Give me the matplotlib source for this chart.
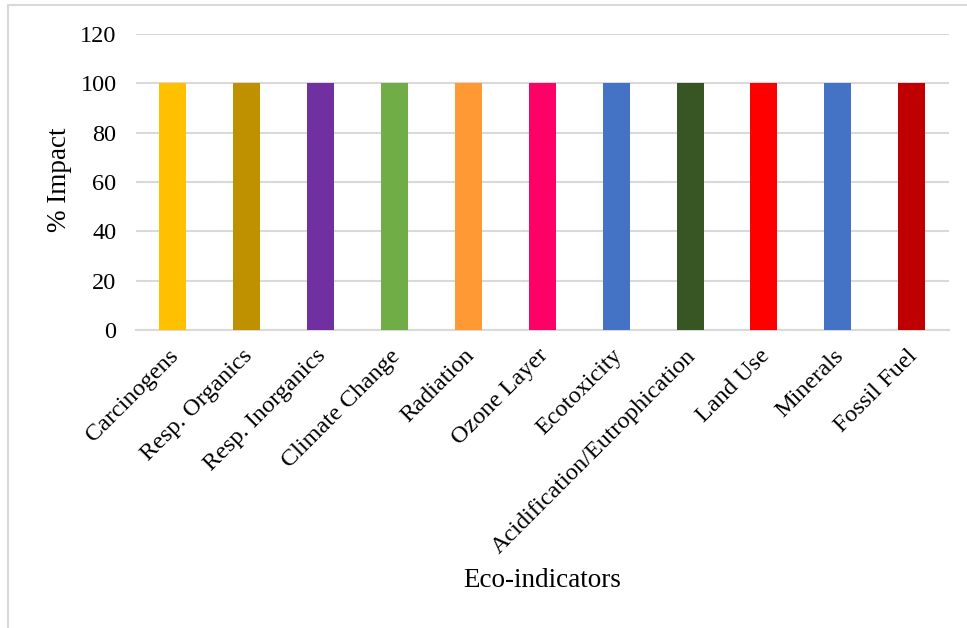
import matplotlib.pyplot as plt
from matplotlib.patches import Rectangle
from matplotlib.transforms import ScaledTranslation

categories = [
    "Carcinogens", "Resp. Organics", "Resp. Inorganics", "Climate Change",
    "Radiation", "Ozone Layer", "Ecotoxicity", "Acidification/Eutrophication",
    "Land Use", "Minerals", "Fossil Fuel",
]
impact = [100, 100, 100, 100, 100, 100, 100, 100, 100, 100, 100]
colors = [
    "#FFC000", "#BF9000", "#7030A0", "#70AD47", "#FF9933", "#FF0066",
    "#4472C4", "#375623", "#FF0000", "#4472C4", "#C00000",
]
yticks = [0, 20, 40, 60, 80, 100, 120]

plt.rcParams["font.family"] = ["Liberation Serif", "DejaVu Serif"]

fig = plt.figure(figsize=(9.67, 6.28), dpi=100)
ax = fig.add_axes([0.1406, 0.4745, 0.8404, 0.4714])

x = list(range(len(categories)))
ax.bar(x, impact, width=0.365, color=colors, zorder=3)

ax.set_xlim(-0.5, len(categories) - 0.5)
ax.set_ylim(0, 120)
ax.set_yticks(yticks)
ax.set_yticklabels([str(t) for t in yticks], fontsize=17.5)
ax.set_xticks(x)
ax.set_xticklabels(categories, fontsize=17.5, rotation=45, ha="right",
                   va="top", rotation_mode="anchor")
ax.tick_params(axis="both", length=0)
ax.tick_params(axis="y", pad=14)
ax.tick_params(axis="x", pad=11)
# nudge rotated labels a little to the left
shift = ScaledTranslation(-0.05, 0, fig.dpi_scale_trans)
for lbl in ax.get_xticklabels():
    lbl.set_transform(lbl.get_transform() + shift)

ax.grid(axis="y", color="#D9D9D9", linewidth=1.5, zorder=0)
for side in ["top", "right", "left"]:
    ax.spines[side].set_visible(False)
ax.spines["bottom"].set_color("#D9D9D9")
ax.spines["bottom"].set_linewidth(1.5)

fig.text(0.062, 0.713, "% Impact", fontsize=19.5, rotation=90,
         ha="center", va="center")
fig.text(0.561, 0.076, "Eco-indicators", fontsize=19.5, ha="center", va="center")

# light frame around the chart area
fig.patches.append(Rectangle((0.0083, -0.2), 1.5, 1.192, transform=fig.transFigure,
                             fill=False, edgecolor="#D9D9D9", linewidth=1.5))

fig.savefig("out.png", dpi=100)
